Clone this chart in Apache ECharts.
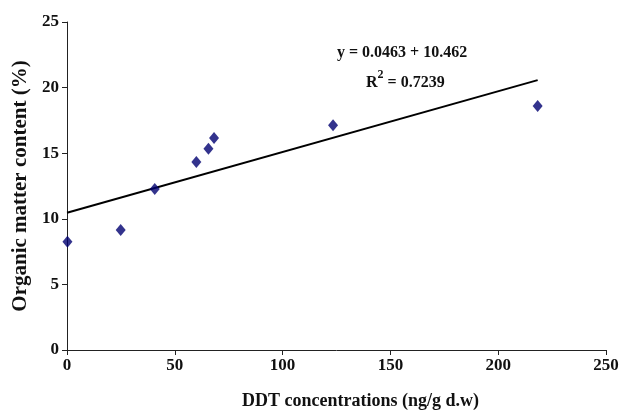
<!DOCTYPE html>
<html>
<head>
<meta charset="utf-8">
<script src="https://cdn.jsdelivr.net/npm/echarts@6/dist/echarts.min.js"></script>
<style>html,body{margin:0;padding:0;background:#fff}#c{width:619px;height:412px}</style>
</head>
<body>
<div id="c"></div>
<script>
// Data
var ddt = [0.2, 24.9, 40.7, 60.0, 65.6, 68.2, 123.4, 218.3];
var organic = [8.25, 9.15, 12.27, 14.33, 15.34, 16.16, 17.13, 18.6];
var trendX = [0, 218.3];
var trendY = [10.462, 20.57];
var xTicks = [0, 50, 100, 150, 200, 250];
var yTicks = [0, 5, 10, 15, 20, 25];
var eqLine1 = 'y = 0.0463 + 10.462';
var eqLine2R = 'R';
var eqLine2Sup = '2';
var eqLine2Val = ' = 0.7239';

var font = '"Liberation Serif", "Times New Roman", serif';
var chart = echarts.init(document.getElementById('c'));
chart.setOption({
  animation: false,
  backgroundColor: '#fff',
  grid: {left: 67, right: 13, top: 22, bottom: 62, containLabel: false, outerBoundsMode: 'none'},
  xAxis: {
    type: 'value', min: xTicks[0], max: xTicks[xTicks.length - 1], interval: 50,
    splitLine: {show: false},
    axisLine: {show: true, lineStyle: {color: '#222', width: 1}},
    axisTick: {show: true, length: 5, lineStyle: {color: '#222'}},
    axisLabel: {color: '#111', fontFamily: font, fontWeight: 'bold', fontSize: 17, margin: 7},
    name: 'DDT concentrations (ng/g d.w)',
    nameLocation: 'middle', nameGap: 42,
    nameTextStyle: {color: '#111', fontFamily: font, fontWeight: 'bold', fontSize: 18, padding: [0, 0, 0, 48]}
  },
  yAxis: {
    type: 'value', min: yTicks[0], max: yTicks[yTicks.length - 1], interval: 5,
    splitLine: {show: false},
    axisLine: {show: true, lineStyle: {color: '#222', width: 1}},
    axisTick: {show: true, length: 5, lineStyle: {color: '#222'}},
    axisLabel: {color: '#111', fontFamily: font, fontWeight: 'bold', fontSize: 17, margin: 8},
    name: 'Organic matter content (%)',
    nameLocation: 'middle', nameGap: 36,
    nameTextStyle: {color: '#111', fontFamily: font, fontWeight: 'bold', fontSize: 21}
  },
  series: [
    {
      type: 'line',
      data: trendX.map(function (x, i) { return [x, trendY[i]]; }),
      symbol: 'none',
      lineStyle: {color: '#000', width: 2},
      z: 2
    },
    {
      type: 'scatter',
      data: ddt.map(function (x, i) { return [x, organic[i]]; }),
      symbol: 'diamond',
      symbolSize: [10, 12],
      itemStyle: {color: '#000070'},
      z: 3
    }
  ],
  graphic: [
    {
      type: 'text', left: 337, top: 45,
      style: {text: eqLine1, font: 'bold 16px ' + font, fill: '#111'}
    },
    {
      type: 'text', left: 366, top: 69,
      style: {
        text: '{r|' + eqLine2R + '}{s|' + eqLine2Sup + '}{r|' + eqLine2Val + '}',
        rich: {
          r: {font: 'bold 16px ' + font, fill: '#111', verticalAlign: 'bottom', lineHeight: 22},
          s: {font: 'bold 12px ' + font, fill: '#111', verticalAlign: 'top', lineHeight: 22}
        }
      }
    }
  ]
});
</script>
</body>
</html>
